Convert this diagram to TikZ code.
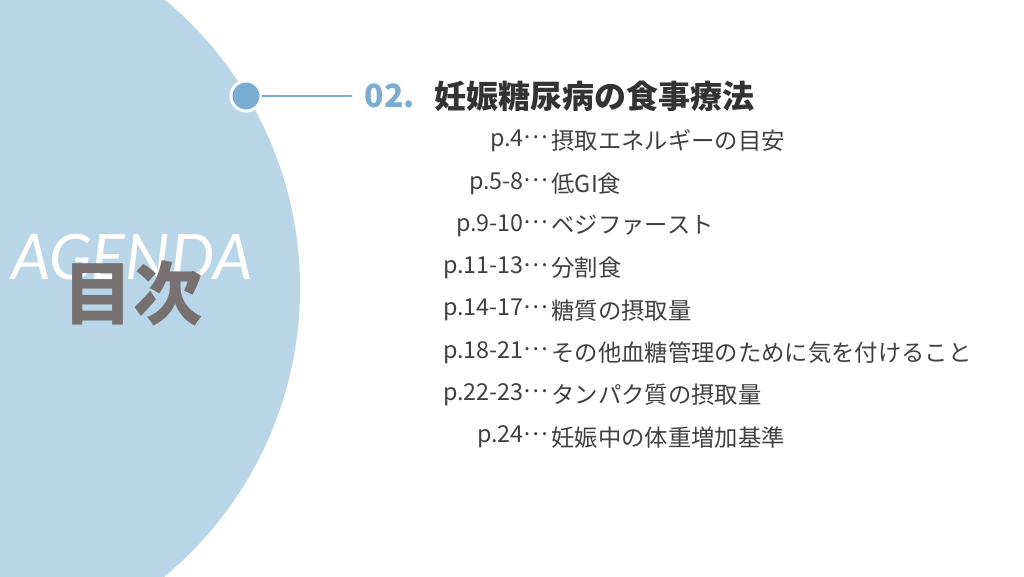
\documentclass[tikz,border=0pt]{standalone}
\usepackage{fontspec}
\setmainfont{Noto Sans CJK JP}
\newfontfamily\agendafont{Lato}
\usetikzlibrary{positioning}
\definecolor{circblue}{HTML}{B9D6E8}
\definecolor{dotblue}{HTML}{79ACD3}
\definecolor{titlegray}{HTML}{333333}
\definecolor{itemgray}{HTML}{404040}
\definecolor{kanjigray}{HTML}{767170}
\newcommand{\middots}{\raisebox{0.33em}{…}}
\tikzset{
	dot/.style={circle, fill=dotblue, draw=white, line width=2.2pt, minimum size=22.5pt, inner sep=0pt},
	leader/.style={draw=dotblue, line width=2pt},
	pagenum/.style={anchor=east, inner sep=1pt, text=itemgray, font=\fontsize{17.5}{20}\selectfont},
	itemtext/.style={anchor=west, inner sep=1pt, text=itemgray, font=\fontsize{17.5}{20}\selectfont},
}
\begin{document}
\begin{tikzpicture}[x=0.75pt, y=-0.75pt, line join=round, line cap=round]
	\def\W{1024} \def\H{576}
	\def\ytop{141} \def\dy{42.3} % first line, line spacing
	\useasboundingbox (0,0) rectangle (\W,\H);
	\clip (0,0) rectangle (\W,\H);
	% big circle
	\fill[circblue] (-75,288) circle[radius=281.25pt];
	\node[text=white, font=\agendafont\itshape\fontsize{47}{52}\selectfont] (agenda) at (132,257) {AGENDA};
	\node[text=kanjigray, font=\bfseries\fontsize{52}{58}\selectfont] (mokuji) at (133,293) {目次};
	% heading
	\node[dot] (dot) at (246,96) {};
	\node[anchor=west, inner sep=2pt, text=dotblue, font=\bfseries\fontsize{24}{28}\selectfont] (num) at (362,96) {02.};
	\node[right=12pt of num, inner sep=0pt, text=titlegray, font=\bfseries\fontsize{24}{28}\selectfont] (title) {妊娠糖尿病の食事療法};
	\draw[leader] (dot) -- ([xshift=-8pt]num.west);
	% agenda items
	\foreach \pg/\txt [count=\i] in {p.4/摂取エネルギーの目安, p.5-8/低GI食, p.9-10/ベジファースト,
		p.11-13/分割食, p.14-17/糖質の摂取量, p.18-21/その他血糖管理のために気を付けること,
		p.22-23/タンパク質の摂取量, p.24/妊娠中の体重増加基準}
	{
		\node[pagenum] (pg\i) at (550,{\ytop+\dy*(\i-1)}) {\pg\middots};
		\node[itemtext] (it\i) at (pg\i.east) {\txt};
	}
\end{tikzpicture}
\end{document}
